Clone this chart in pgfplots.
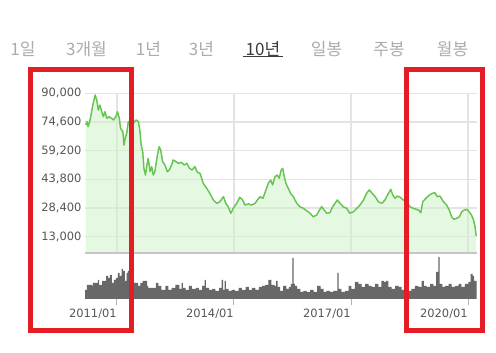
\documentclass[border=0pt]{standalone}
\usepackage{fontspec}
\setmainfont{DejaVu Sans}
\newfontfamily\kr{Noto Sans CJK KR}
\usepackage{pgfplots}
\pgfplotsset{compat=1.18}
\definecolor{lineg}{RGB}{102,196,80}
\definecolor{fillg}{RGB}{205,245,198}
\definecolor{gridc}{RGB}{228,228,228}
\definecolor{labc}{RGB}{85,85,85}
\definecolor{volc}{RGB}{104,104,104}
\definecolor{menuc}{RGB}{172,172,172}
\definecolor{menud}{RGB}{60,60,60}
\definecolor{redb}{RGB}{228,28,36}
\begin{document}
\begin{tikzpicture}[x=0.75pt,y=0.75pt]
\fill[white] (0,0) rectangle (496,353);
% top menu
\foreach \t/\xx in {1일/23,3개월/86.5,1년/148.5,3년/201.5,일봉/326.5,주봉/389,월봉/452.5}
  \node[text=menuc, inner sep=0pt, font=\kr\fontsize{12.75pt}{14pt}\selectfont] at (\xx,304) {\t};
\node[text=menud, inner sep=0pt, font=\kr\fontsize{12.75pt}{14pt}\selectfont] at (263,304) {10년};
\draw[menud, line width=0.75pt] (243,296.5) -- (283,296.5);
% price chart
\begin{axis}[
  at={(63.75pt,75.225pt)}, anchor=south west,
  scale only axis, width=294pt, height=119.55pt,
  xmin=2010.1795, xmax=2020.2308, ymin=4402, ymax=90000,
  enlargelimits=false,
  axis line style={draw=none},
  xtick={2011,2014,2017,2020}, xticklabels={},
  ytick={13000,28400,43800,59200,74600,90000},
  yticklabels={13{,}000,28{,}400,43{,}800,59{,}200,74{,}600,90{,}000},
  scaled y ticks=false,
  major tick length=0pt,
  grid=major, major grid style={gridc, line width=0.9pt},
  /pgf/number format/assume math mode=true,
  yticklabel style={anchor=east, inner sep=0pt, xshift=-2.5pt, text=labc, font=\fontsize{8.6pt}{10pt}\selectfont},
  clip=false,
]
\addplot[draw=none, fill=fillg, fill opacity=0.5] coordinates {
(2010.20,73000)(2010.23,74700)(2010.26,72100)(2010.31,75700)(2010.38,83700)(2010.44,89100)
(2010.48,86400)(2010.52,81000)(2010.56,83700)(2010.61,80100)(2010.65,77400)(2010.69,80100)
(2010.74,76600)(2010.80,77400)(2010.86,76600)(2010.91,75700)(2010.97,77400)(2011.01,80100)
(2011.06,76600)(2011.09,71200)(2011.15,69400)(2011.18,62200)(2011.21,65800)(2011.25,68500)
(2011.29,74700)(2011.36,75100)(2011.42,74000)(2011.49,75700)(2011.55,74700)(2011.59,69400)
(2011.62,62200)(2011.66,58600)(2011.69,49700)(2011.73,46100)(2011.76,50600)(2011.80,55100)
(2011.85,47900)(2011.89,50600)(2011.93,46100)(2011.97,47900)(2012.03,56000)(2012.08,61300)
(2012.12,59600)(2012.17,53300)(2012.23,51500)(2012.29,47900)(2012.34,48800)(2012.40,51500)
(2012.44,54200)(2012.51,53300)(2012.57,52400)(2012.66,52900)(2012.72,51500)(2012.79,52400)
(2012.85,50000)(2012.92,48800)(2013.00,50600)(2013.06,47600)(2013.13,47000)(2013.21,41700)
(2013.30,39000)(2013.38,36300)(2013.47,32700)(2013.56,30900)(2013.64,31800)(2013.73,34500)
(2013.79,30900)(2013.85,29100)(2013.92,25600)(2013.98,28200)(2014.07,30900)(2014.15,34200)
(2014.22,32700)(2014.28,30000)(2014.37,30600)(2014.45,30000)(2014.54,30900)(2014.60,32700)
(2014.67,34500)(2014.74,33600)(2014.79,36300)(2014.88,41700)(2014.94,43400)(2014.99,40800)
(2015.05,45200)(2015.11,46100)(2015.16,44400)(2015.21,48800)(2015.25,49700)(2015.28,46100)
(2015.33,41700)(2015.39,39000)(2015.45,36300)(2015.52,34500)(2015.61,30900)(2015.69,29100)
(2015.78,28200)(2015.86,27000)(2015.95,25600)(2016.03,23700)(2016.12,24600)(2016.19,27300)
(2016.25,29100)(2016.31,27300)(2016.38,25600)(2016.46,25900)(2016.53,29100)(2016.59,30900)
(2016.65,32700)(2016.72,30900)(2016.80,29100)(2016.89,28200)(2016.97,25600)(2017.06,26400)
(2017.15,28200)(2017.23,30000)(2017.32,32700)(2017.40,36300)(2017.47,38100)(2017.53,36600)
(2017.62,34500)(2017.70,31800)(2017.79,30900)(2017.87,32700)(2017.96,36300)(2018.02,38400)
(2018.07,35400)(2018.13,33600)(2018.19,34800)(2018.26,34200)(2018.34,32700)(2018.43,31800)
(2018.51,29100)(2018.60,28200)(2018.73,27300)(2018.79,25900)(2018.84,31800)(2018.92,33600)
(2019.01,35400)(2019.09,36300)(2019.15,36600)(2019.21,34500)(2019.28,34800)(2019.37,31800)
(2019.45,30000)(2019.52,27300)(2019.58,23700)(2019.64,22300)(2019.71,22900)(2019.78,23700)
(2019.84,26400)(2019.90,27300)(2019.97,27700)(2020.03,26400)(2020.09,24600)(2020.14,22000)
(2020.18,18400)(2020.21,13400)
} \closedcycle;
\addplot[lineg, line width=1.1pt, line join=round] coordinates {
(2010.20,73000)(2010.23,74700)(2010.26,72100)(2010.31,75700)(2010.38,83700)(2010.44,89100)
(2010.48,86400)(2010.52,81000)(2010.56,83700)(2010.61,80100)(2010.65,77400)(2010.69,80100)
(2010.74,76600)(2010.80,77400)(2010.86,76600)(2010.91,75700)(2010.97,77400)(2011.01,80100)
(2011.06,76600)(2011.09,71200)(2011.15,69400)(2011.18,62200)(2011.21,65800)(2011.25,68500)
(2011.29,74700)(2011.36,75100)(2011.42,74000)(2011.49,75700)(2011.55,74700)(2011.59,69400)
(2011.62,62200)(2011.66,58600)(2011.69,49700)(2011.73,46100)(2011.76,50600)(2011.80,55100)
(2011.85,47900)(2011.89,50600)(2011.93,46100)(2011.97,47900)(2012.03,56000)(2012.08,61300)
(2012.12,59600)(2012.17,53300)(2012.23,51500)(2012.29,47900)(2012.34,48800)(2012.40,51500)
(2012.44,54200)(2012.51,53300)(2012.57,52400)(2012.66,52900)(2012.72,51500)(2012.79,52400)
(2012.85,50000)(2012.92,48800)(2013.00,50600)(2013.06,47600)(2013.13,47000)(2013.21,41700)
(2013.30,39000)(2013.38,36300)(2013.47,32700)(2013.56,30900)(2013.64,31800)(2013.73,34500)
(2013.79,30900)(2013.85,29100)(2013.92,25600)(2013.98,28200)(2014.07,30900)(2014.15,34200)
(2014.22,32700)(2014.28,30000)(2014.37,30600)(2014.45,30000)(2014.54,30900)(2014.60,32700)
(2014.67,34500)(2014.74,33600)(2014.79,36300)(2014.88,41700)(2014.94,43400)(2014.99,40800)
(2015.05,45200)(2015.11,46100)(2015.16,44400)(2015.21,48800)(2015.25,49700)(2015.28,46100)
(2015.33,41700)(2015.39,39000)(2015.45,36300)(2015.52,34500)(2015.61,30900)(2015.69,29100)
(2015.78,28200)(2015.86,27000)(2015.95,25600)(2016.03,23700)(2016.12,24600)(2016.19,27300)
(2016.25,29100)(2016.31,27300)(2016.38,25600)(2016.46,25900)(2016.53,29100)(2016.59,30900)
(2016.65,32700)(2016.72,30900)(2016.80,29100)(2016.89,28200)(2016.97,25600)(2017.06,26400)
(2017.15,28200)(2017.23,30000)(2017.32,32700)(2017.40,36300)(2017.47,38100)(2017.53,36600)
(2017.62,34500)(2017.70,31800)(2017.79,30900)(2017.87,32700)(2017.96,36300)(2018.02,38400)
(2018.07,35400)(2018.13,33600)(2018.19,34800)(2018.26,34200)(2018.34,32700)(2018.43,31800)
(2018.51,29100)(2018.60,28200)(2018.73,27300)(2018.79,25900)(2018.84,31800)(2018.92,33600)
(2019.01,35400)(2019.09,36300)(2019.15,36600)(2019.21,34500)(2019.28,34800)(2019.37,31800)
(2019.45,30000)(2019.52,27300)(2019.58,23700)(2019.64,22300)(2019.71,22900)(2019.78,23700)
(2019.84,26400)(2019.90,27300)(2019.97,27700)(2020.03,26400)(2020.09,24600)(2020.14,22000)
(2020.18,18400)(2020.21,13400)
};
\draw[gray!45, line width=1.5pt] (rel axis cs:0,0) -- (rel axis cs:1,0);
\end{axis}
% volume chart
\begin{axis}[
  at={(63.75pt,40.5pt)}, anchor=south west,
  scale only axis, width=294pt, height=33.75pt,
  xmin=2010.1795, xmax=2020.2308, ymin=0, ymax=45,
  enlargelimits=false,
  axis line style={draw=none},
  xtick={2011,2014,2017,2020},
  xticklabels={2011/01,2014/01,2017/01,2020/01},
  ytick=\empty,
  xtick pos=bottom, tick align=outside,
  major tick length=4.5pt,
  tick style={gray!60, line width=0.75pt},
  xticklabel style={anchor=north east, inner sep=0pt, yshift=-3pt, text=labc, font=\fontsize{8.6pt}{10pt}\selectfont},
  /pgf/number format/assume math mode=true,
]
\addplot[fill=volc, draw=none, const plot] coordinates {
(2010.18,9)(2010.23,14)(2010.31,14)(2010.36,13)(2010.38,16)(2010.49,16)(2010.51,19)(2010.54,14)
(2010.62,18)(2010.72,23)(2010.77,21)(2010.82,24)(2010.87,16)(2010.92,19)(2010.97,21)(2011.02,26)
(2011.07,23)(2011.12,30)(2011.15,28)(2011.20,18)(2011.25,26)(2011.28,28)(2011.31,22)(2011.36,17)
(2011.44,16)(2011.49,16)(2011.54,13)(2011.60,16)(2011.66,18)(2011.77,13)(2011.80,11)(2012.00,16)
(2012.06,13)(2012.14,9)(2012.24,13)(2012.32,9)(2012.40,11)(2012.50,14)(2012.60,10)(2012.66,16)
(2012.69,11)(2012.76,9)(2012.84,13)(2012.92,10)(2013.02,11)(2013.10,9)(2013.18,13)(2013.25,19)
(2013.28,11)(2013.36,9)(2013.44,10)(2013.52,8)(2013.62,11)(2013.68,19)(2013.72,9)(2013.76,18)
(2013.79,10)(2013.86,8)(2013.94,9)(2014.02,8)(2014.12,11)(2014.20,9)(2014.30,12)(2014.38,9)
(2014.46,11)(2014.55,9)(2014.64,12)(2014.72,13)(2014.80,14)(2014.88,19)(2014.96,14)(2015.04,13)
(2015.08,18)(2015.12,12)(2015.18,8)(2015.26,13)(2015.34,10)(2015.41,12)(2015.46,15)(2015.50,41)
(2015.53,15)(2015.56,13)(2015.62,10)(2015.70,7)(2015.78,8)(2015.86,7)(2015.95,9)(2016.04,7)
(2016.13,13)(2016.22,10)(2016.30,7)(2016.37,8)(2016.46,7)(2016.55,8)(2016.65,26)(2016.68,10)
(2016.75,7)(2016.85,8)(2016.94,13)(2017.01,10)(2017.10,17)(2017.19,15)(2017.27,12)(2017.36,15)
(2017.45,13)(2017.53,12)(2017.62,15)(2017.70,12)(2017.78,18)(2017.84,17)(2017.90,18)(2017.96,12)
(2018.04,10)(2018.13,13)(2018.22,12)(2018.30,9)(2018.38,8)(2018.46,8)(2018.55,10)(2018.64,13)
(2018.73,12)(2018.81,18)(2018.87,13)(2018.94,12)(2019.03,15)(2019.11,13)(2019.18,27)(2019.24,42)
(2019.27,15)(2019.34,12)(2019.41,13)(2019.50,15)(2019.58,12)(2019.67,13)(2019.76,15)(2019.83,12)
(2019.92,15)(2020.01,17)(2020.07,25)(2020.12,23)(2020.16,18)(2020.22,18)
} \closedcycle;
\end{axis}
% red annotation frames
\draw[redb, line width=3.75pt] (30.5,283.5) rectangle (131.5,22.5);
\draw[redb, line width=3.75pt] (406.5,283.5) rectangle (482.5,22.5);
\end{tikzpicture}
\end{document}
